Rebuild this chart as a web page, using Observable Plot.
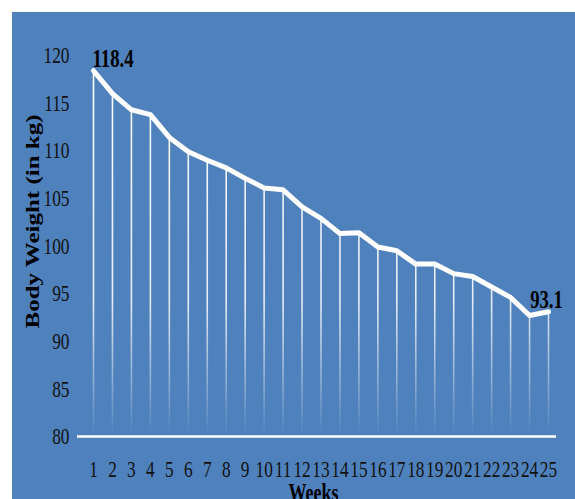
<!DOCTYPE html>
<html>
<head>
<meta charset="utf-8">
<script src="https://cdn.jsdelivr.net/npm/d3@7"></script>
<script src="https://cdn.jsdelivr.net/npm/@observablehq/plot@0.6"></script>
<style>
  html, body { margin: 0; padding: 0; background: #ffffff; }
  #chart { position: absolute; left: 12px; top: 12px; }
</style>
</head>
<body>
<div id="chart"></div>
<script>
const weeks = [1,2,3,4,5,6,7,8,9,10,11,12,13,14,15,16,17,18,19,20,21,22,23,24,25];
const weights = [118.4,116.0,114.3,113.8,111.4,109.9,109.0,108.2,107.1,106.1,105.9,104.1,102.9,101.3,101.4,99.9,99.5,98.1,98.1,97.1,96.8,95.7,94.6,92.7,93.1];
const yTicks = [80,85,90,95,100,105,110,115,120];
const yLabel = "Body Weight (in kg)";
const xLabel = "Weeks";

const data = weeks.map((w, i) => ({week: w, weight: weights[i]}));
const first = [data[0]];
const last = [data[data.length - 1]];

const svg = Plot.plot({
  width: 563,
  height: 487,
  marginLeft: 81,
  marginRight: 27,
  marginTop: 43,
  marginBottom: 63,
  style: {background: "#4f81bd", fontFamily: "'Liberation Serif', 'Times New Roman', serif", color: "#111", overflow: "visible"},
  x: {domain: [1, 25]},
  y: {domain: [80, 120]},
  marks: [
    Plot.ruleX(data, {x: "week", y1: 80, y2: "weight", stroke: "url(#fade)", strokeWidth: 1.6}),
    Plot.ruleY([80], {stroke: "white", strokeWidth: 2.5, insetLeft: -16, insetRight: -8}),
    Plot.line(data, {x: "week", y: "weight", stroke: "white", strokeWidth: 5, strokeLinejoin: "round"}),
    Plot.axisY(yTicks, {tickSize: 0, tickPadding: 24, fontSize: 24, label: null, tickFormat: d => String(d)}),
    Plot.axisX(weeks, {tickSize: 0, tickPadding: 23, fontSize: 24, label: null, tickFormat: d => String(d)}),
    Plot.text(first, {x: "week", y: "weight", text: d => d.weight.toFixed(1), textAnchor: "start", dx: -1, dy: -12, fontSize: 26, fontWeight: "bold", fill: "#000"}),
    Plot.text(last, {x: "week", y: "weight", text: d => d.weight.toFixed(1), textAnchor: "middle", dx: -2, dy: -12, fontSize: 26, fontWeight: "bold", fill: "#000"}),
    Plot.text([yLabel], {frameAnchor: "left", textAnchor: "middle", lineAnchor: "middle", text: d => d, rotate: -90, dx: -60.5, dy: -24.5, fontSize: 25, fontWeight: "bold", fill: "#000"}),
    Plot.text([xLabel], {frameAnchor: "bottom", textAnchor: "middle", lineAnchor: "middle", text: d => d, dx: -7.5, dy: 56, fontSize: 25, fontWeight: "bold", fill: "#000"})
  ]
});

// gradient for fading drop lines
const defs = d3.select(svg).insert("defs", ":first-child");
const grad = defs.append("linearGradient").attr("id", "fade")
  .attr("gradientUnits", "userSpaceOnUse")
  .attr("x1", 0).attr("x2", 0).attr("y1", 43).attr("y2", 424);
grad.append("stop").attr("offset", "0").attr("stop-color", "white").attr("stop-opacity", 1);
grad.append("stop").attr("offset", "0.65").attr("stop-color", "white").attr("stop-opacity", 0.85);
grad.append("stop").attr("offset", "1").attr("stop-color", "white").attr("stop-opacity", 0);

// condensed look of the original text
d3.select(svg).selectAll("text").each(function() {
  const t = this.getAttribute("transform");
  if (!t) return;
  if (t.includes("rotate")) this.setAttribute("transform", t + " scale(1,0.72)");
  else this.setAttribute("transform", t + " scale(0.72,1)");
});

document.getElementById("chart").appendChild(svg);
</script>
</body>
</html>
